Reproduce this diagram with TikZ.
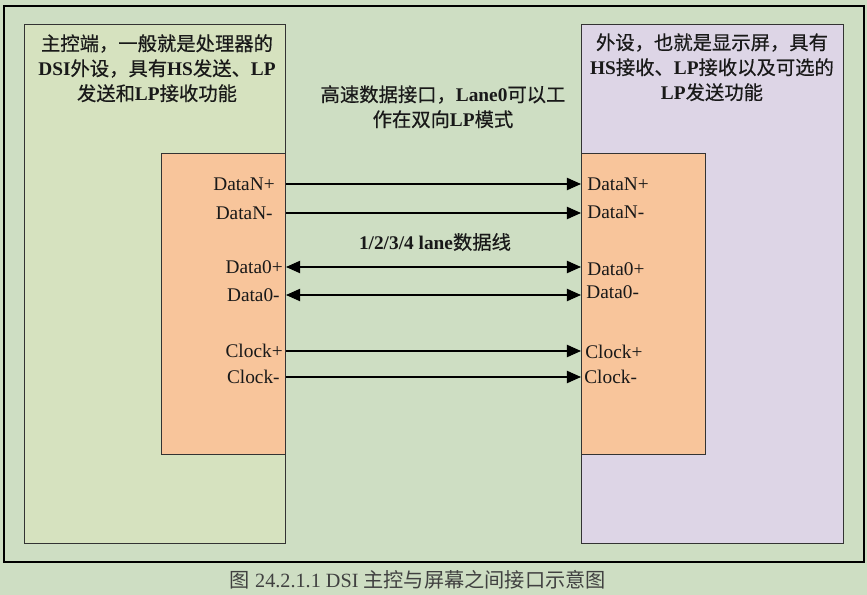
\documentclass[tikz,border=0pt]{standalone}
\usepackage{fontspec}
\setmainfont{Liberation Serif}
\newfontfamily\cjk[FakeBold=0.5]{Noto Sans CJK SC}
\newfontfamily\cjkcap{Noto Sans CJK SC}
\usetikzlibrary{arrows.meta}
\definecolor{bggreen}{HTML}{CEDEC3}
\definecolor{hostgreen}{HTML}{D6E2BF}
\definecolor{devpurple}{HTML}{DDD5E6}
\definecolor{phyorange}{HTML}{F8C59B}

\begin{document}
\begin{tikzpicture}[x=0.02cm,y=-0.02cm,
    every node/.style={font=\fontsize{11}{14.2}\selectfont, text=black!90, inner sep=0pt},
    panel/.style={draw=black!80, line width=0.6pt, anchor=north west},
    sig/.style={line width=0.6pt, -{Triangle[length=8pt,width=7pt]}},
    bisig/.style={line width=0.6pt, {Triangle[length=8pt,width=7pt]}-{Triangle[length=8pt,width=7pt]}}]
    % background and outer frame
    \fill[bggreen] (0,0) rectangle (867,595);
    \node[panel, draw=black, line width=1.1pt, minimum width=17.2cm, minimum height=11.12cm] (frame) at (3,5) {};
    % host and device
    \node[panel, fill=hostgreen, minimum width=5.22cm, minimum height=10.38cm] (host) at (24,24) {};
    \node[panel, fill=devpurple, minimum width=5.24cm, minimum height=10.38cm] (dev) at (581,24) {};
    \node[panel, fill=phyorange, minimum width=2.48cm, minimum height=6.02cm] (hostphy) at (161,153) {};
    \node[panel, fill=phyorange, minimum width=2.48cm, minimum height=6.02cm] (devphy) at (581,153) {};
    % descriptions
    \node[anchor=north, align=center] (hosttxt) at (157,34)
      {{\cjk 主控端，一般就是处理器的}\\
       \textbf{DSI}{\cjk 外设，具有}\textbf{HS}{\cjk 发送、}\textbf{LP}\\
       {\cjk 发送和}\textbf{LP}{\cjk 接收功能}};
    \node[anchor=north, align=center] (devtxt) at (712,33)
      {{\cjk 外设，也就是显示屏，具有}\\
       \textbf{HS}{\cjk 接收、}\textbf{LP}{\cjk 接收以及可选的}\\
       \textbf{LP}{\cjk 发送功能}};
    \node[anchor=north, align=center] (linktxt) at (443,85)
      {{\cjk 高速数据接口，}\textbf{Lane0}{\cjk 可以工}\\
       {\cjk 作在双向}\textbf{LP}{\cjk 模式}};
    \node (lanetxt) at (435,242) {\textbf{1/2/3/4 lane}{\cjk 数据线}};
    % pin names
    \node[anchor=east] (hDNp) at (275,184) {DataN+};
    \node[anchor=east] (hDNn) at (273,213) {DataN-};
    \node[anchor=east] (hD0p) at (283,267) {Data0+};
    \node[anchor=east] (hD0n) at (280,295) {Data0-};
    \node[anchor=east] (hCKp) at (283,351) {Clock+};
    \node[anchor=east] (hCKn) at (280,377) {Clock-};
    \node[anchor=west] (dDNp) at (587,184) {DataN+};
    \node[anchor=west] (dDNn) at (587,212) {DataN-};
    \node[anchor=west] (dD0p) at (587,269) {Data0+};
    \node[anchor=west] (dD0n) at (586,292) {Data0-};
    \node[anchor=west] (dCKp) at (585,352) {Clock+};
    \node[anchor=west] (dCKn) at (584,377) {Clock-};
    % lanes
    \draw[sig] (hostphy.east |- hDNp) -- (devphy.west |- hDNp);
    \draw[sig] (hostphy.east |- hDNn) -- (devphy.west |- hDNn);
    \draw[bisig] (hostphy.east |- hD0p) -- (devphy.west |- hD0p);
    \draw[bisig] (hostphy.east |- hD0n) -- (devphy.west |- hD0n);
    \draw[sig] (hostphy.east |- hCKp) -- (devphy.west |- hCKp);
    \draw[sig] (hostphy.east |- hCKn) -- (devphy.west |- hCKn);
    % caption
    \node[text=black!75, font=\fontsize{11.5}{14}\selectfont] (caption) at (418,580)
      {{\cjkcap 图} 24.2.1.1 DSI {\cjkcap 主控与屏幕之间接口示意图}};
\end{tikzpicture}
\end{document}
